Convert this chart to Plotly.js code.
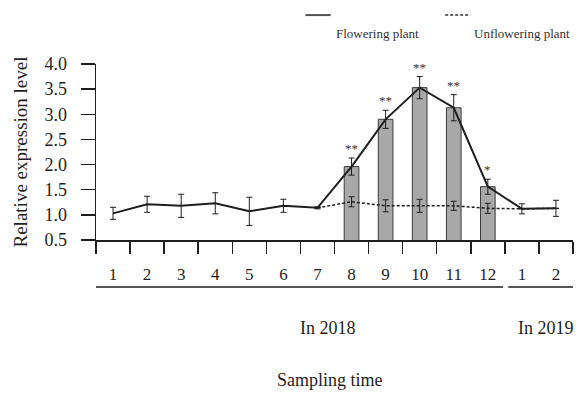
<!DOCTYPE html>
<html><head><meta charset="utf-8">
<script src="https://cdn.plot.ly/plotly-3.0.1.min.js"></script>
<style>body{margin:0;background:#fff}#c{width:578px;height:394px}</style>
</head><body><div id="c"></div>
<script>
var monthLabels = ["1","2","3","4","5","6","7","8","9","10","11","12","1","2"];
var flowering = [1.03,1.21,1.18,1.23,1.07,1.18,1.14,1.96,2.90,3.53,3.13,1.56,1.12,1.13];
var floweringErr = [0.12,0.16,0.23,0.21,0.28,0.13,0.02,0.17,0.18,0.22,0.26,0.15,0.10,0.16];
var unflowering = [null,null,null,null,null,null,1.14,1.26,1.18,1.18,1.18,1.13,1.12,1.13];
var unfloweringErr = [0,0,0,0,0,0,0,0.10,0.12,0.13,0.09,0.10,0,0];
var barIdx = [7,8,9,10,11];
var significance = ["","","","","","","","**","**","**","**","*","",""];
var groups = [{label:"In 2018", from:0, to:11}, {label:"In 2019", from:12, to:13}];

var xs = monthLabels.map(function(_,i){return i;});
var font = "Liberation Serif, Times New Roman, serif";
var ink = "#1e1e1e";

var traces = [
  {type:"bar", x:barIdx, y:barIdx.map(function(i){return flowering[i];}), width:0.43,
   marker:{color:"#a8a8a8", line:{color:"#3a3a3a", width:1}}, hoverinfo:"skip", showlegend:false},
  {type:"scatter", mode:"lines", x:xs, y:unflowering, connectgaps:false,
   line:{color:ink, width:1.5, dash:"3px,2px"},
   error_y:{type:"data", array:unfloweringErr, visible:true, color:ink, thickness:1, width:3},
   showlegend:false},
  {type:"scatter", mode:"lines", x:xs, y:flowering,
   line:{color:ink, width:2},
   error_y:{type:"data", array:floweringErr, visible:true, color:ink, thickness:1, width:3},
   showlegend:false}
];

var annotations = [];
significance.forEach(function(s,i){
  if(!s) return;
  annotations.push({x:i, y:flowering[i]+floweringErr[i], xref:"x", yref:"y", text:s,
    showarrow:false, yanchor:"bottom", xanchor:"center", yshift:0, font:{family:font, size:13, color:"#333"}});
});
var shapes = [];
groups.forEach(function(g){
  shapes.push({type:"line", xref:"x", yref:"paper", x0:g.from-0.5+(g.from>0?0.1:0), x1:g.to+0.5-(g.to<13?0.05:0),
    y0:-0.267, y1:-0.267, line:{color:ink, width:1.5}});
  annotations.push({x:(g.from+g.to)/2 + (g.from>0?0.2:0.8), y:-0.5, xref:"x", yref:"paper", text:g.label,
    showarrow:false, xanchor:"center", yanchor:"middle", font:{family:font, size:18, color:ink}});
});
annotations.push({x:0.49, y:-0.795, xref:"paper", yref:"paper", text:"Sampling time",
  showarrow:false, xanchor:"center", yanchor:"middle", font:{family:font, size:18, color:ink}});
// legend
shapes.push({type:"line", xref:"paper", yref:"paper", x0:0.439, x1:0.492, y0:1.278, y1:1.278, line:{color:"#555", width:2}});
shapes.push({type:"line", xref:"paper", yref:"paper", x0:0.732, x1:0.785, y0:1.278, y1:1.278, line:{color:"#333", width:1.5, dash:"3px,2px"}});
annotations.push({x:0.59, y:1.176, xref:"paper", yref:"paper", text:"Flowering plant", showarrow:false, xanchor:"center", yanchor:"middle", font:{family:font, size:13, color:"#333"}});
annotations.push({x:0.893, y:1.176, xref:"paper", yref:"paper", text:"Unflowering plant", showarrow:false, xanchor:"center", yanchor:"middle", font:{family:font, size:13, color:"#333"}});

var layout = {
  width:578, height:394,
  margin:{l:96, r:5, t:64, b:154},
  paper_bgcolor:"#fff", plot_bgcolor:"#fff",
  showlegend:false,
  xaxis:{range:[-0.5,13.5], tickmode:"array", tickvals:xs, ticktext:monthLabels,
    ticks:"", showgrid:false, zeroline:false, showline:true, linecolor:ink, linewidth:1.5,
    ticklabelstandoff:18,
    tickfont:{family:font, size:17, color:ink},
    minor:{tickmode:"linear", tick0:-0.5, dtick:1, ticks:"outside", ticklen:12, tickcolor:ink, tickwidth:1.5, showgrid:false}},
  yaxis:{range:[0.5,4.0], tickmode:"linear", tick0:0.5, dtick:0.5, tickformat:".1f",
    ticks:"outside", ticklen:14, tickcolor:ink, tickwidth:1.5,
    showgrid:false, zeroline:false, showline:true, linecolor:ink, linewidth:1.5,
    ticklabelstandoff:10,
    tickfont:{family:font, size:18, color:ink},
    title:{text:"Relative expression level", font:{family:font, size:19, color:ink}, standoff:12}},
  annotations:annotations, shapes:shapes, bargap:0
};
Plotly.newPlot("c", traces, layout, {displayModeBar:false, staticPlot:true});
</script></body></html>
